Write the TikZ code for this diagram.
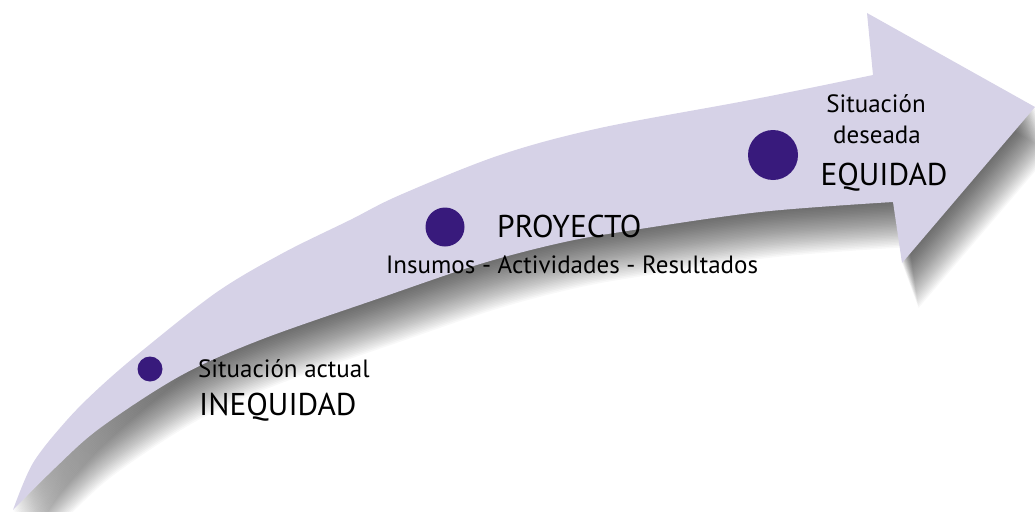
\documentclass[tikz,border=0pt]{standalone}
\usepackage{fontspec}
\setmainfont{PT Sans}
\begin{document}
\begin{tikzpicture}[x=1pt,y=-1pt]
\definecolor{band}{RGB}{214,210,231}
\definecolor{dot}{RGB}{56,26,124}
\tikzset{
  small/.style={inner sep=0pt, text=black, font=\fontsize{25}{29}\selectfont},
  big/.style={inner sep=0pt, text=black, font=\fontsize{31.5}{36}\selectfont},
  dotc/.style={circle, fill=dot, inner sep=0pt, draw=none},
  shadowcopy/.style={fill=black, fill opacity=0.027, draw=none}
}
\def\arrowpath{plot[smooth,tension=0.55] coordinates {(13,510) (33,463) (67,420) (100,387) (143,350) (217,292) (283,253) (350,220) (400,195) (500,155) (600,128) (750,100) (873,75)}
  -- (867,13) -- (1035,107) -- (902,263) -- (893,202)
  -- plot[smooth,tension=0.55] coordinates {(893,202) (760,212) (627,231) (560,243) (480,264) (380,298) (260,340) (180,376) (100,428) (55,468) (13,510)} -- cycle}
\useasboundingbox (0,0) rectangle (1035,511);
\clip (0,0) rectangle (1035,511);
\foreach \k in {1,...,30}{
  \fill[shadowcopy, shift={(0.55*\k,1.5*\k)}] \arrowpath;
}
\fill[band] \arrowpath;
\node[dotc, minimum size=25pt] (d1) at (150,369) {};
\node[dotc, minimum size=39pt] (d2) at (445,227) {};
\node[dotc, minimum size=50pt] (d3) at (773,155) {};
\node[small, anchor=base west] (t1) at (198,377) {Situación actual};
\node[big, anchor=base west] (t2) at (199,415) {INEQUIDAD};
\node[big, anchor=base west] (t3) at (497,237) {PROYECTO};
\node[small, anchor=base west] (t4) at (386,273) {Insumos - Actividades - Resultados};
\node[small, anchor=base] (t5) at (876,112) {Situación};
\node[small, anchor=base] (t6) at (877,143) {deseada};
\node[big, anchor=base] (t7) at (884,185) {EQUIDAD};
\end{tikzpicture}
\end{document}
